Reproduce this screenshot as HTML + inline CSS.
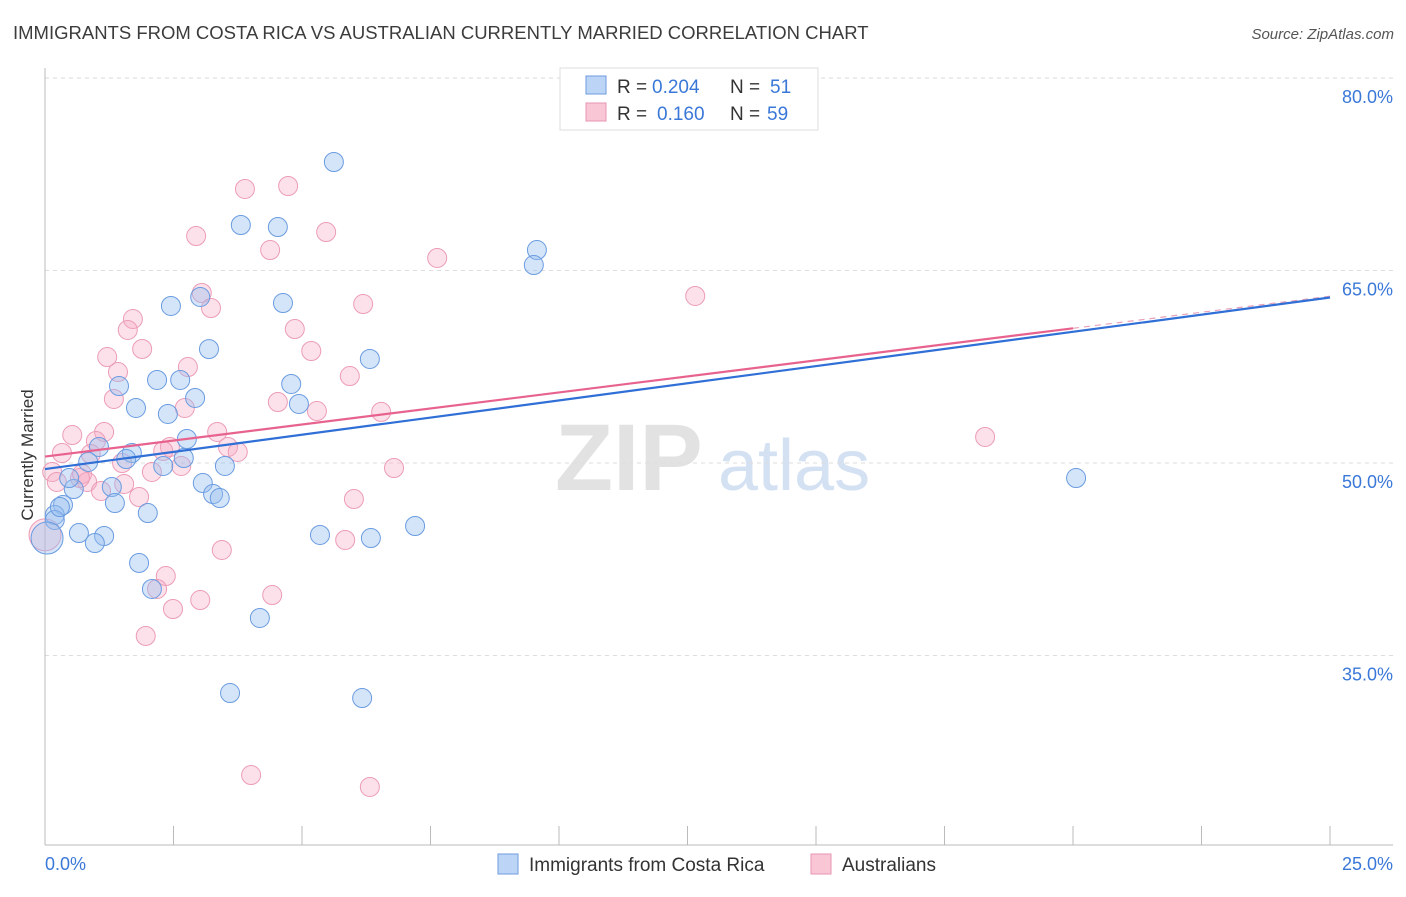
<!DOCTYPE html>
<html><head><meta charset="utf-8"><style>
body{margin:0;background:#fff;font-family:"Liberation Sans",sans-serif}
svg text{font-family:"Liberation Sans",sans-serif}
</style></head><body>
<svg id="chart" width="1406" height="892" viewBox="0 0 1406 892" xmlns="http://www.w3.org/2000/svg">
<text x="13" y="39" font-size="18.5" fill="#3c3c3c">IMMIGRANTS FROM COSTA RICA VS AUSTRALIAN CURRENTLY MARRIED CORRELATION CHART</text>
<text x="1394" y="39" font-size="15" fill="#555" text-anchor="end" font-style="italic">Source: ZipAtlas.com</text>
<g>
<text x="555" y="490" font-size="95" fill="#e2e2e2" font-family="Liberation Serif" font-weight="bold">ZIP</text>
<text x="718" y="490" font-size="72" fill="#d3e1f3">atlas</text>
</g>
<g id="grid"></g>
<g id="axes"></g>
<g id="pts-au"></g>
<g id="pts-cr"></g>
<g id="lines"></g>
<text transform="translate(33,455) rotate(-90)" font-size="17" fill="#333" text-anchor="middle">Currently Married</text>
<g>
<rect x="560" y="68" width="258" height="62" fill="#fff" stroke="#ddd"/>
<rect x="586" y="76" width="20" height="18" fill="#bcd4f5" stroke="#6f9be0"/>
<rect x="586" y="103" width="20" height="18" fill="#f9c6d6" stroke="#e896b2"/>
<text x="617" y="93" font-size="19" fill="#333">R = </text><text x="652" y="93" font-size="19" fill="#3a78d8">0.204</text>
<text x="730" y="93" font-size="19" fill="#333">N = </text><text x="770" y="93" font-size="19" fill="#3a78d8">51</text>
<text x="617" y="120" font-size="19" fill="#333">R = </text><text x="657" y="120" font-size="19" fill="#3a78d8">0.160</text>
<text x="730" y="120" font-size="19" fill="#333">N = </text><text x="767" y="120" font-size="19" fill="#3a78d8">59</text>
</g>
<g>
<rect x="498" y="854" width="20" height="20" fill="#bcd4f5" stroke="#6f9be0"/>
<text x="529" y="871" font-size="19" fill="#333">Immigrants from Costa Rica</text>
<rect x="811" y="854" width="20" height="20" fill="#f9c6d6" stroke="#e896b2"/>
<text x="842" y="871" font-size="19" fill="#333">Australians</text>
</g>
</svg>
<script>
const crX=[5.62,3.81,4.53,9.57,9.51,2.45,3.02,4.63,3.19,6.32,1.44,2.18,2.63,4.79,2.92,1.77,2.39,4.94,2.76,1.69,1.58,2.7,1.05,0.84,3.5,2.3,3.07,1.3,0.56,0.47,3.27,3.4,1.36,0.35,0.19,2.0,0.66,1.15,0.97,5.35,6.34,7.2,20.06,1.83,2.08,4.18,3.6,6.17,0.19,0.29,0.04];
const crY=[73.46,68.55,68.39,66.6,65.43,62.24,62.94,62.47,58.88,58.11,56.0,56.47,56.47,56.16,55.07,54.29,53.82,54.6,51.87,50.78,50.31,50.39,51.25,50.08,49.77,49.77,48.44,48.13,47.97,48.83,47.58,47.27,46.88,46.73,45.95,46.1,44.54,44.31,43.76,44.39,44.15,45.09,48.83,42.21,40.18,37.92,32.07,31.68,45.56,46.57,44.15];
const auX=[4.73,3.89,2.94,5.47,4.38,7.63,3.05,3.23,6.19,12.65,1.71,1.61,4.86,1.21,1.89,5.18,2.78,5.93,1.42,1.34,2.72,4.53,5.29,6.54,0.53,1.15,3.35,0.99,2.43,2.3,3.56,3.75,0.33,0.14,0.89,6.79,2.65,2.08,0.72,0.23,0.82,1.09,1.83,1.54,6.01,18.29,3.44,5.84,2.35,2.18,2.49,3.02,4.42,1.96,4.01,6.32,0.68,1.5,0.0];
const auY=[71.59,71.36,67.69,68.0,66.6,65.98,63.25,62.08,62.39,63.02,61.22,60.37,60.44,58.26,58.89,58.73,57.48,56.78,57.09,54.99,54.29,54.75,54.05,53.98,52.18,52.42,52.42,51.71,51.25,50.94,51.25,50.86,50.78,49.3,50.7,49.61,49.77,49.3,49.14,48.52,48.52,47.82,47.35,48.36,47.19,52.03,43.22,44.0,41.19,40.18,38.62,39.32,39.71,36.52,25.68,24.75,48.83,50.0,44.4];
const yTicks=[80,65,50,35];
const yTickLabels=["80.0%","65.0%","50.0%","35.0%"];
const xTickLabels=["0.0%","25.0%"];
const crTrend=[0,49.53,25,62.9];
const auTrend=[0,50.5,20,60.5];
const NS="http://www.w3.org/2000/svg";
const sx=v=>45+v*51.4;
const sy=v=>463-(v-50)*12.83;
function mk(tag,attrs,parent){const e=document.createElementNS(NS,tag);for(const k in attrs)e.setAttribute(k,attrs[k]);parent.appendChild(e);return e;}
const grid=document.getElementById('grid'),axes=document.getElementById('axes');
mk('line',{x1:45,x2:1393,y1:78,y2:78,stroke:'#e0e0e0','stroke-dasharray':'4,4'},grid);
yTicks.forEach((t,i)=>{
 const l=mk('line',{x1:45,x2:1393,y1:sy(t),y2:sy(t),stroke:'#ddd','stroke-dasharray':'4,4'},grid);
 
 
 const tx=mk('text',{x:1393,y:sy(t)+25,'font-size':18,fill:'#3a78d8','text-anchor':'end'},axes);
 tx.textContent=yTickLabels[i];
 
 
});
mk('line',{x1:45,x2:45,y1:68,y2:845,stroke:'#bbb'},axes);
mk('line',{x1:45,x2:1393,y1:845,y2:845,stroke:'#bbb'},axes);
for(let k=0;k<=10;k++){mk('line',{x1:sx(k*2.5),x2:sx(k*2.5),y1:826,y2:845,stroke:'#bbb'},axes);}
const x0=mk('text',{x:45,y:870,'font-size':18,fill:'#3a78d8'},axes);x0.textContent=xTickLabels[0];


const x1=mk('text',{x:1393,y:870,'font-size':18,fill:'#3a78d8','text-anchor':'end'},axes);x1.textContent=xTickLabels[1];


function pts(X,Y,g,fill,stroke,name){X.forEach((x,i)=>{
 const big=(x<0.05);
 const c=mk('circle',{cx:sx(x),cy:sy(Y[i]),r:big?16:9.5,fill:fill,stroke:stroke,'stroke-width':1},g);
 
 
});}
pts(auX,auY,document.getElementById('pts-au'),'rgba(246,170,195,0.35)','#ec9cb8','australians-point');
pts(crX,crY,document.getElementById('pts-cr'),'rgba(150,190,240,0.4)','#6a9ce0','costa-rica-point');
const lg=document.getElementById('lines');
const sl=(auTrend[3]-auTrend[1])/(auTrend[2]-auTrend[0]);
mk('line',{x1:sx(auTrend[2]),y1:sy(auTrend[3]),x2:sx(25),y2:sy(auTrend[1]+sl*25),stroke:'#e8a0b8','stroke-width':1.2,'stroke-dasharray':'6,5'},lg);
const cl=mk('line',{x1:sx(crTrend[0]),y1:sy(crTrend[1]),x2:sx(crTrend[2]),y2:sy(crTrend[3]),stroke:'#2f6fd6','stroke-width':2.2},lg);


const al=mk('line',{x1:sx(auTrend[0]),y1:sy(auTrend[1]),x2:sx(auTrend[2]),y2:sy(auTrend[3]),stroke:'#e8628e','stroke-width':2.2},lg);


</script>
</body></html>
